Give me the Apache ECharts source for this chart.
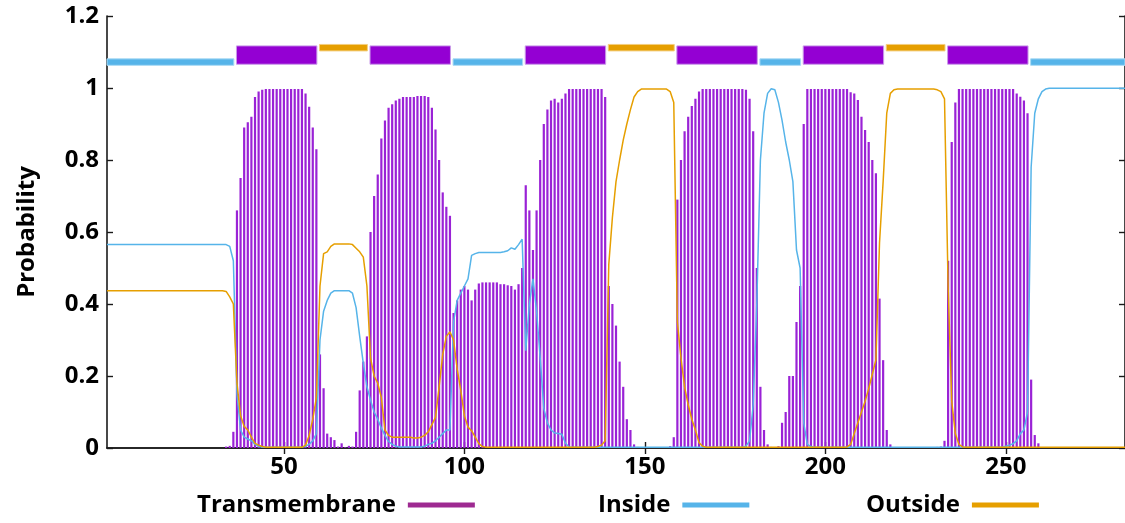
<!DOCTYPE html>
<html>
<head>
<meta charset="utf-8">
<script src="https://cdn.jsdelivr.net/npm/echarts@6/dist/echarts.min.js"></script>
<style>
  html, body { margin: 0; padding: 0; background: #fff; }
  #chart { width: 1125px; height: 523px; }
</style>
</head>
<body>
<div id="chart"></div>
<script>
// posterior probabilities per residue (residue 1..283)
const tmProb = [
  0,0,0,0,0,0,0,0,0,0,
  0,0,0,0,0,0,0,0,0,0,
  0,0,0,0,0,0,0,0,0,0,
  0,0,0,0.004,0.006,0.045,0.66,0.75,0.89,0.905,
  0.92,0.975,0.99,0.995,0.997,0.997,0.997,0.997,0.997,0.997,
  0.997,0.997,0.997,0.997,0.997,0.985,0.948,0.89,0.83,0.26,
  0.166,0.04,0.03,0.022,0.004,0.013,0.002,0.006,0.004,0.045,
  0.16,0.24,0.31,0.6,0.7,0.76,0.86,0.91,0.945,0.955,
  0.965,0.97,0.975,0.975,0.975,0.975,0.978,0.978,0.978,0.975,
  0.945,0.885,0.8,0.71,0.67,0.645,0.375,0.41,0.44,0.45,
  0.44,0.41,0.44,0.457,0.46,0.46,0.46,0.46,0.46,0.455,
  0.455,0.452,0.45,0.44,0.455,0.5,0.73,0.66,0.55,0.66,
  0.8,0.9,0.94,0.965,0.97,0.96,0.97,0.985,0.997,0.997,
  0.997,0.997,0.997,0.997,0.997,0.997,0.997,0.997,0.975,0.45,
  0.4,0.34,0.24,0.17,0.08,0.05,0.01,0.003,0,0,
  0,0,0,0,0,0,0.005,0.03,0.69,0.8,
  0.88,0.92,0.95,0.97,0.99,0.997,0.997,0.997,0.997,0.997,
  0.997,0.997,0.997,0.997,0.997,0.997,0.997,0.995,0.97,0.88,
  0.5,0.17,0.05,0.01,0.003,0.002,0.005,0.07,0.1,0.2,
  0.2,0.35,0.45,0.9,0.997,0.997,0.997,0.997,0.997,0.997,
  0.997,0.997,0.997,0.997,0.997,0.997,0.988,0.985,0.967,0.92,
  0.883,0.85,0.8,0.763,0.415,0.244,0.05,0.01,0,0,
  0,0,0,0,0,0,0,0,0,0,
  0.003,0.004,0.02,0.52,0.85,0.96,0.997,0.997,0.997,0.997,
  0.997,0.997,0.997,0.997,0.997,0.997,0.997,0.997,0.997,0.997,
  0.997,0.997,0.985,0.976,0.965,0.93,0.19,0.036,0.013,0.002,
  0,0,0,0,0,0,0,0,0,0,
  0,0,0,0,0,0,0,0,0,0,
  0,0,0
];
const insideProb = [
  0.565,0.565,0.565,0.565,0.565,0.565,0.565,0.565,0.565,0.565,
  0.565,0.565,0.565,0.565,0.565,0.565,0.565,0.565,0.565,0.565,
  0.565,0.565,0.565,0.565,0.565,0.565,0.565,0.565,0.565,0.565,
  0.565,0.565,0.565,0.565,0.56,0.52,0.15,0.05,0.03,0.025,
  0.02,0.01,0.005,0.002,0.002,0.002,0.002,0.002,0.002,0.002,
  0.002,0.002,0.002,0.002,0.002,0.005,0.01,0.02,0.04,0.3,
  0.38,0.41,0.43,0.437,0.437,0.437,0.437,0.437,0.43,0.39,
  0.31,0.235,0.17,0.133,0.1,0.08,0.055,0.035,0.018,0.01,
  0.005,0.003,0.003,0.003,0.003,0.003,0.003,0.003,0.005,0.01,
  0.013,0.02,0.03,0.04,0.05,0.05,0.35,0.41,0.43,0.45,
  0.47,0.535,0.54,0.543,0.543,0.543,0.543,0.543,0.543,0.543,
  0.545,0.548,0.556,0.552,0.565,0.58,0.27,0.4,0.47,0.38,
  0.25,0.11,0.07,0.05,0.042,0.04,0.038,0.013,0.003,0.002,
  0.002,0.002,0.002,0.002,0.002,0.002,0.002,0.002,0.002,0.002,
  0.002,0.002,0.002,0.002,0.002,0.002,0.002,0.002,0.002,0.002,
  0.002,0.002,0.002,0.002,0.002,0.002,0.002,0.002,0.002,0.002,
  0.002,0.002,0.002,0.002,0.002,0.002,0.002,0.002,0.002,0.002,
  0.002,0.002,0.002,0.002,0.002,0.002,0.002,0.005,0.02,0.12,
  0.4,0.8,0.93,0.985,0.998,0.995,0.96,0.91,0.85,0.8,
  0.74,0.55,0.5,0.07,0.01,0.004,0.002,0.002,0.002,0.002,
  0.002,0.002,0.002,0.002,0.002,0.002,0.002,0.002,0.002,0.002,
  0.002,0.002,0.002,0.002,0.002,0.002,0.002,0.002,0.002,0.002,
  0.002,0.002,0.002,0.002,0.002,0.002,0.002,0.002,0.002,0.002,
  0.002,0.002,0.002,0.002,0.002,0.002,0.002,0.002,0.002,0.002,
  0.002,0.002,0.002,0.002,0.002,0.002,0.002,0.002,0.002,0.005,
  0.008,0.012,0.02,0.04,0.05,0.1,0.78,0.93,0.97,0.99,
  0.997,0.999,0.999,0.999,0.999,0.999,0.999,0.999,0.999,0.999,
  0.999,0.999,0.999,0.999,0.999,0.999,0.999,0.999,0.999,0.999,
  0.999,0.999,0.999
];
const outsideProb = [
  0.437,0.437,0.437,0.437,0.437,0.437,0.437,0.437,0.437,0.437,
  0.437,0.437,0.437,0.437,0.437,0.437,0.437,0.437,0.437,0.437,
  0.437,0.437,0.437,0.437,0.437,0.437,0.437,0.437,0.437,0.437,
  0.437,0.437,0.437,0.435,0.42,0.4,0.18,0.09,0.06,0.05,
  0.03,0.013,0.008,0.004,0.002,0.002,0.002,0.002,0.002,0.002,
  0.002,0.002,0.002,0.002,0.002,0.008,0.035,0.08,0.14,0.45,
  0.54,0.545,0.56,0.567,0.567,0.567,0.567,0.567,0.565,0.555,
  0.545,0.53,0.45,0.25,0.2,0.18,0.14,0.05,0.035,0.03,
  0.03,0.03,0.03,0.03,0.03,0.028,0.028,0.03,0.035,0.045,
  0.065,0.085,0.17,0.26,0.31,0.323,0.3,0.22,0.16,0.09,
  0.058,0.048,0.03,0.012,0.004,0.002,0.002,0.002,0.002,0.002,
  0.002,0.002,0.002,0.002,0.002,0.002,0.002,0.002,0.002,0.002,
  0.002,0.002,0.002,0.002,0.002,0.002,0.002,0.002,0.002,0.002,
  0.002,0.002,0.002,0.002,0.002,0.002,0.004,0.008,0.02,0.51,
  0.64,0.74,0.8,0.855,0.9,0.94,0.975,0.99,0.997,0.997,
  0.997,0.997,0.997,0.997,0.997,0.997,0.99,0.96,0.35,0.25,
  0.17,0.12,0.08,0.05,0.015,0.005,0.002,0.002,0.002,0.002,
  0.002,0.002,0.002,0.002,0.002,0.002,0.002,0.002,0.002,0.002,
  0.002,0.002,0.002,0.002,0.002,0.002,0.002,0.002,0.002,0.002,
  0.002,0.002,0.002,0.002,0.002,0.002,0.002,0.002,0.002,0.002,
  0.002,0.002,0.002,0.002,0.002,0.003,0.01,0.04,0.07,0.1,
  0.13,0.165,0.205,0.245,0.57,0.74,0.93,0.985,0.995,0.997,
  0.997,0.997,0.997,0.997,0.997,0.997,0.997,0.997,0.997,0.997,
  0.995,0.99,0.97,0.45,0.13,0.04,0.01,0.003,0.002,0.002,
  0.002,0.002,0.002,0.002,0.002,0.002,0.002,0.002,0.002,0.002,
  0.002,0.002,0.002,0.002,0.002,0.002,0.002,0.002,0.002,0.002,
  0.002,0.002,0.002,0.002,0.002,0.002,0.002,0.002,0.002,0.002,
  0.002,0.002,0.002,0.002,0.002,0.002,0.002,0.002,0.002,0.002,
  0.002,0.002,0.002
];

// predicted topology (segments)
const topoStart = [1, 37, 60, 74, 97, 117, 140, 159, 182, 194, 217, 234, 257];
const topoEnd   = [36, 59, 73, 96, 116, 139, 158, 181, 193, 216, 233, 256, 283];
const topoKind  = ['in','tm','out','tm','in','tm','out','tm','in','tm','out','tm','in'];

const xTicks = [50, 100, 150, 200, 250];
const seqLen = 283;

const FONT = '"Open Sans", "Noto Sans", sans-serif';
const PURPLE = '#9400d3';
const BLUE = '#56b4e9';
const ORANGE = '#e69f00';

// band levels for the topology strip
const band = {
  in:  { lo: 1.063, hi: 1.081, fill: BLUE,   stroke: '#a9daf4' },
  tm:  { lo: 1.066, hi: 1.117, fill: PURPLE, stroke: '#c99ae9' },
  out: { lo: 1.103, hi: 1.121, fill: ORANGE, stroke: '#f3cf7f' }
};

const pairs = arr => arr.map((v, i) => [i + 1, v]);

const chart = echarts.init(document.getElementById('chart'));

const legendBase = {
  orient: 'horizontal',
  align: 'right',
  icon: 'rect',
  itemWidth: 67,
  itemHeight: 5,
  padding: 0,
  top: 493,
  selectedMode: false,
  textStyle: {
    fontFamily: FONT, fontWeight: 'bold', fontSize: 24, color: '#000',
    padding: [0, 7, 0, 0]
  }
};

chart.setOption({
  animation: false,
  backgroundColor: '#fff',
  grid: { left: 107, top: 16, width: 1020, height: 432 },
  legend: [
    Object.assign({}, legendBase, { left: 197, data: [{ name: 'Transmembrane', itemStyle: { color: '#9e2a91' } }] }),
    Object.assign({}, legendBase, { left: 598, data: [{ name: 'Inside', itemStyle: { color: BLUE } }] }),
    Object.assign({}, legendBase, { left: 866, data: [{ name: 'Outside', itemStyle: { color: ORANGE } }] })
  ],
  xAxis: [
    {
      type: 'value', min: 1, max: seqLen, position: 'bottom',
      axisLine: { show: true, lineStyle: { color: '#1a1a1a', width: 1.6 } },
      axisTick: { show: true, inside: true, length: 6, customValues: xTicks, lineStyle: { color: '#1a1a1a', width: 1.4 } },
      axisLabel: { show: true, customValues: xTicks, margin: 7, fontFamily: FONT, fontWeight: 'bold', fontSize: 24, color: '#000' },
      splitLine: { show: false }
    },
    {
      type: 'value', min: 1, max: seqLen, position: 'top',
      axisLine: { show: true, lineStyle: { color: '#1a1a1a', width: 1.6 } },
      axisTick: { show: true, inside: true, length: 6, customValues: xTicks, lineStyle: { color: '#1a1a1a', width: 1.4 } },
      axisLabel: { show: false },
      splitLine: { show: false }
    }
  ],
  yAxis: [
    {
      type: 'value', min: 0, max: 1.2, interval: 0.2, position: 'left',
      name: 'Probability', nameLocation: 'middle', nameGap: 68,
      nameTextStyle: { fontFamily: FONT, fontWeight: 'bold', fontSize: 24, color: '#000' },
      axisLine: { show: true, lineStyle: { color: '#1a1a1a', width: 1.6 } },
      axisTick: { show: true, inside: true, length: 6, lineStyle: { color: '#1a1a1a', width: 1.4 } },
      axisLabel: { margin: 8, fontFamily: FONT, fontWeight: 'bold', fontSize: 24, color: '#000' },
      splitLine: { show: false }
    },
    {
      type: 'value', min: 0, max: 1.2, interval: 0.2, position: 'right',
      axisLine: { show: true, lineStyle: { color: '#1a1a1a', width: 1.6 } },
      axisTick: { show: true, inside: true, length: 6, lineStyle: { color: '#1a1a1a', width: 1.4 } },
      axisLabel: { show: false },
      splitLine: { show: false }
    }
  ],
  series: [
    {
      name: 'Transmembrane',
      type: 'bar',
      data: pairs(tmProb),
      barWidth: 2.2,
      itemStyle: { color: '#9a22d6' },
      z: 2
    },
    {
      name: 'topology',
      type: 'custom',
      data: topoStart.map((s, i) => [s, topoEnd[i]]),
      encode: { x: [0, 1] },
      z: 3,
      renderItem: function (params, api) {
        const b = band[topoKind[params.dataIndex]];
        const a = api.coord([api.value(0) - 0.5, b.hi]);
        const c = api.coord([api.value(1) + 0.5, b.lo]);
        const cs = params.coordSys;
        const x0 = Math.max(a[0] + 1.3, cs.x);
        const x1 = Math.min(c[0] - 1.3, cs.x + cs.width);
        return {
          type: 'rect',
          shape: { x: x0, y: a[1], width: x1 - x0, height: c[1] - a[1] },
          style: { fill: b.fill, stroke: b.stroke, lineWidth: 1 }
        };
      }
    },
    {
      name: 'Inside',
      type: 'line',
      data: pairs(insideProb),
      showSymbol: false,
      symbol: 'none',
      color: BLUE,
      lineStyle: { color: BLUE, width: 1.5 },
      z: 4
    },
    {
      name: 'Outside',
      type: 'line',
      data: pairs(outsideProb),
      showSymbol: false,
      symbol: 'none',
      color: ORANGE,
      lineStyle: { color: ORANGE, width: 1.5 },
      z: 5
    }
  ]
});
</script>
</body>
</html>
